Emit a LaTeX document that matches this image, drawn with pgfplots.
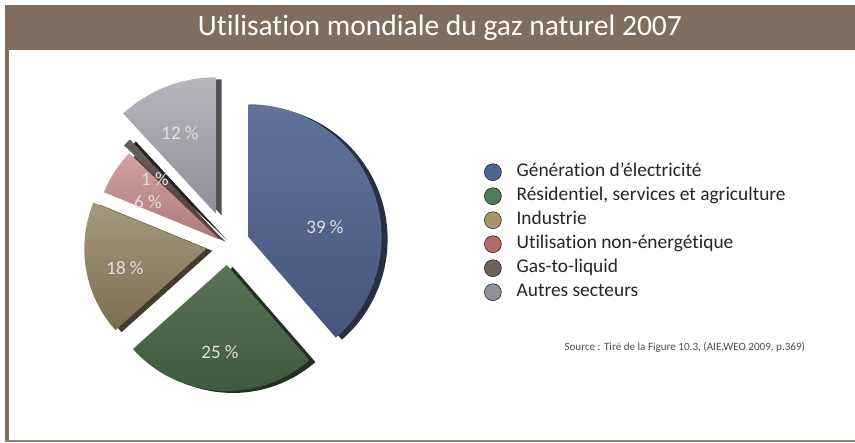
\documentclass[border=0pt]{standalone}
\usepackage{pgfplots}
\pgfplotsset{compat=1.18}
\usepackage{pgfplotstable}
\usepackage{fontspec}
\setmainfont{Carlito}[Ligatures=NoCommon]

\definecolor{framebrown}{HTML}{7F6E5F}
\definecolor{slice0}{HTML}{46567A}\definecolor{slice0top}{HTML}{62739A}
\definecolor{slice1}{HTML}{3D573C}\definecolor{slice1top}{HTML}{597357}
\definecolor{slice2}{HTML}{7A6D50}\definecolor{slice2top}{HTML}{A59A7C}
\definecolor{slice3}{HTML}{AE7A7A}\definecolor{slice3top}{HTML}{CFA2A2}
\definecolor{slice4}{HTML}{463C3A}\definecolor{slice4top}{HTML}{6A605C}
\definecolor{slice5}{HTML}{8F9098}\definecolor{slice5top}{HTML}{B6B7BD}
\definecolor{leg0}{HTML}{4C6590}
\definecolor{leg1}{HTML}{52795A}
\definecolor{leg2}{HTML}{A8946F}
\definecolor{leg3}{HTML}{B46A68}
\definecolor{leg4}{HTML}{6E625A}
\definecolor{leg5}{HTML}{8D8F99}

% value, radius, explode offset, label position (pixel coordinates, y down)
\pgfplotstableread{
value r off lx ly
39 133 22 325 227
25 126 20 220 352
18 122 22 125 268
6  125 10 148 202
1  134 10 155 179
12 136 34 180 133
}\piedata

\begin{document}
\begin{tikzpicture}
% cumulative angles
\gdef\pietotal{0}
\foreach \i in {0,...,5}{%
  \pgfplotstablegetelem{\i}{value}\of\piedata
  \pgfmathsetmacro{\t}{\pietotal+\pgfplotsretval}%
  \xdef\pietotal{\t}%
}
\gdef\acc{90}
\foreach \i in {0,...,5}{%
  \pgfplotstablegetelem{\i}{value}\of\piedata
  \pgfmathsetmacro{\b}{\acc-\pgfplotsretval/\pietotal*360}%
  \expandafter\xdef\csname sA\i\endcsname{\acc}%
  \expandafter\xdef\csname sB\i\endcsname{\b}%
  \xdef\acc{\b}%
}
\begin{axis}[
  x=1pt, y=1pt, xmin=0, xmax=855, ymin=0, ymax=443,
  scale only axis, hide axis, clip=false,
  legend image code/.code={\fill[#1] (8.5pt,0pt) circle (8.5pt);},
  legend style={at={(axis cs:484,283)}, anchor=north west, draw=none, fill=none,
    font=\fontsize{19.4}{19.4}\selectfont, legend cell align=left,
    inner sep=0pt, column sep=13pt,
    nodes={inner xsep=2pt, inner ysep=3pt, text height=13pt, text depth=5pt, text=black!85}},
]
\pgfplotsextra{
  \fill[white] (axis cs:0,0) rectangle (axis cs:855,443);
  % frame
  \fill[framebrown] (axis cs:5,393) rectangle (axis cs:855,438);
  \fill[framebrown] (axis cs:5,0.5) rectangle (axis cs:9,393);
  \fill[framebrown!85] (axis cs:5,0.5) rectangle (axis cs:855,2.8);
  \node[text=white, font=\fontsize{29.5}{29.5}\selectfont] at (axis cs:440,415) {Utilisation mondiale du gaz naturel 2007};
  % pie
  \foreach \i in {0,...,5}{%
    \pgfplotstablegetelem{\i}{r}\of\piedata \let\rr\pgfplotsretval
    \pgfplotstablegetelem{\i}{off}\of\piedata \let\oo\pgfplotsretval
    \edef\a{\csname sA\i\endcsname}\edef\b{\csname sB\i\endcsname}%
    \pgfmathsetmacro{\m}{(\a+\b)/2}%
    \pgfmathsetmacro{\ox}{228+\oo*cos(\m)}%
    \pgfmathsetmacro{\oy}{198+\oo*sin(\m)}%
    \pgfmathsetmacro{\sx}{\ox+6}%
    \pgfmathsetmacro{\sy}{\oy-2}%
    \fill[slice\i!55!black] (axis cs:\sx,\sy) -- ++(\a:\rr pt) arc[start angle=\a, end angle=\b, radius=\rr pt] -- cycle;
    \shade[top color=slice\i top, bottom color=slice\i] (axis cs:\ox,\oy) -- ++(\a:\rr pt) arc[start angle=\a, end angle=\b, radius=\rr pt] -- cycle;
  }
  \foreach \i in {0,...,5}{%
    \pgfplotstablegetelem{\i}{value}\of\piedata \let\vv\pgfplotsretval
    \pgfplotstablegetelem{\i}{lx}\of\piedata \let\lx\pgfplotsretval
    \pgfplotstablegetelem{\i}{ly}\of\piedata \pgfmathsetmacro{\ly}{443-\pgfplotsretval}%
    \node[text=white!88!black, font=\fontsize{19}{19}\selectfont] at (axis cs:\lx,\ly) {\vv~\%};
  }
  \node[anchor=west, text=black!70, font=\fontsize{11.1}{12}\selectfont] at (axis cs:561,96) {Source : Tiré de la Figure 10.3, (AIE,WEO 2009, p.369)};
}
\addlegendimage{fill=leg0}\addlegendentry{Génération d’électricité}
\addlegendimage{fill=leg1}\addlegendentry{Résidentiel, services et agriculture}
\addlegendimage{fill=leg2}\addlegendentry{Industrie}
\addlegendimage{fill=leg3}\addlegendentry{Utilisation non-énergétique}
\addlegendimage{fill=leg4}\addlegendentry{Gas-to-liquid}
\addlegendimage{fill=leg5}\addlegendentry{Autres secteurs}
\end{axis}
\end{tikzpicture}
\end{document}
